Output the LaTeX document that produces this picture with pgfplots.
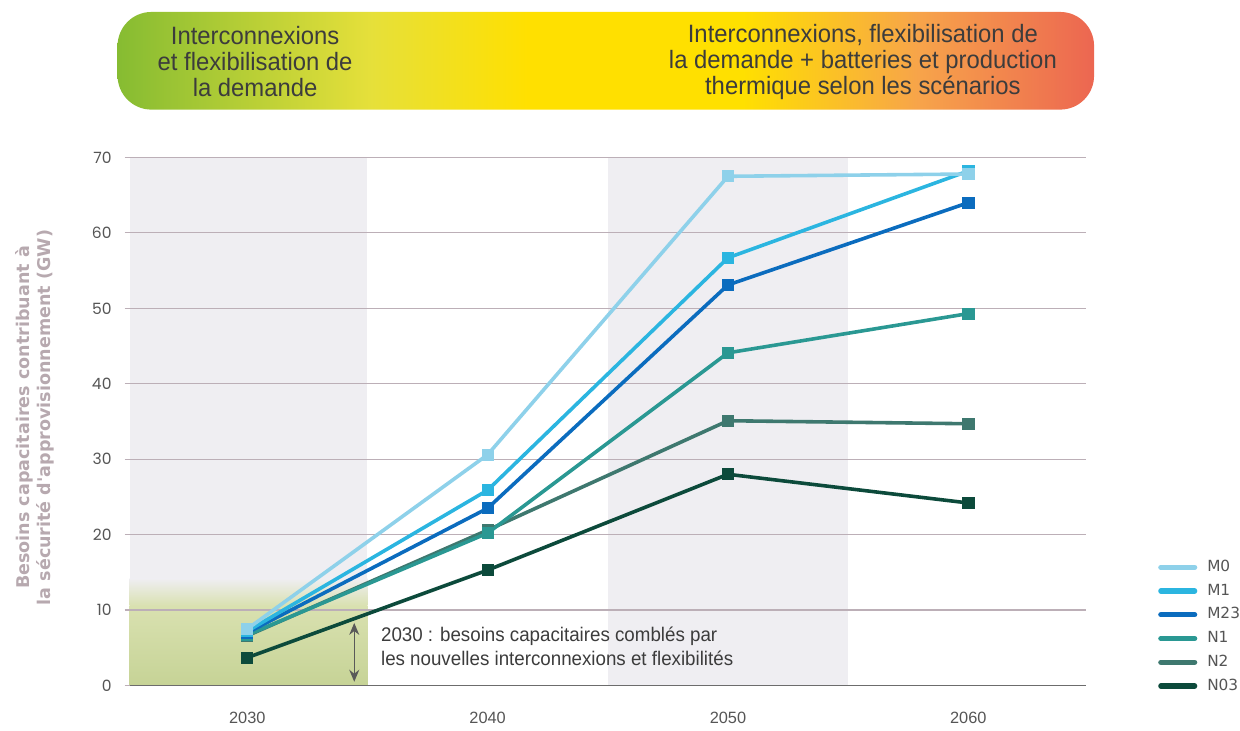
\documentclass[border=0pt]{standalone}
\usepackage{fontspec}
\setmainfont{Liberation Sans}
\newfontfamily\narrowfont[FakeStretch=0.95]{Liberation Sans}
\newfontfamily\dejavu{DejaVu Sans}
\newfontfamily\roundfont{Poppins}
\usepackage{pgfplots}
\pgfplotsset{compat=1.18}
\usetikzlibrary{arrows.meta}

\definecolor{cM0}{HTML}{8ED1EA}
\definecolor{cM1}{HTML}{2BB5E0}
\definecolor{cM23}{HTML}{0B6CBE}
\definecolor{cN1}{HTML}{2A9893}
\definecolor{cN2}{HTML}{3E786F}
\definecolor{cN03}{HTML}{0C4A3B}
\definecolor{gridc}{HTML}{BCAFB7}
\definecolor{bandgray}{HTML}{EFEEF2}
\definecolor{greenlow}{HTML}{C6D396}
\definecolor{greenhigh}{HTML}{D9E1B0}
\definecolor{labelgray}{HTML}{B7A9AF}
\definecolor{textgray}{HTML}{3C3C3C}
\definecolor{tickgray}{HTML}{555555}
\definecolor{bgreen}{HTML}{86BC32}
\definecolor{bygreen}{HTML}{E6E03A}
\definecolor{byellow}{HTML}{FFE000}
\definecolor{borange}{HTML}{F7A44A}
\definecolor{bred}{HTML}{EC6651}

\pgfdeclarehorizontalshading{bannershade}{100bp}{%
  color(0bp)=(bgreen); color(25bp)=(bgreen); color(38bp)=(bygreen);
  color(46bp)=(byellow); color(57bp)=(byellow); color(66bp)=(borange);
  color(75bp)=(bred); color(100bp)=(bred)}

\begin{document}
\begin{tikzpicture}
\begin{scope}[x=0.5pt,y=-0.5pt]
\path[use as bounding box] (0,0) rectangle (1240,729);

% header banner
\shade[shading=bannershade, rounded corners=17pt] (118,12) rectangle (1098,110);
\node[align=center, text=textgray, font=\narrowfont\fontsize{12.6}{13}\selectfont]
  at (256,62) {Interconnexions\\et flexibilisation de\\la demande};
\node[align=center, text=textgray, font=\narrowfont\fontsize{12.6}{13}\selectfont]
  at (866,62) {Interconnexions, flexibilisation de\\la demande + batteries et production\\thermique selon les scénarios};

% y axis title
\node[rotate=90, align=center, text=labelgray, font=\dejavu\bfseries\fontsize{8.8}{10.5}\selectfont]
  at (35,419) {Besoins capacitaires contribuant à\\la sécurité d'approvisionnement (GW)};
\end{scope}

\begin{axis}[
  at={(65pt,-344pt)}, anchor=south west,
  scale only axis, width=480pt, height=265pt,
  set layers, clip=false,
  xmin=2025.1, xmax=2064.9, ymin=0, ymax=70,
  xtick={2030,2040,2050,2060},
  xticklabels={2030,2040,2050,2060},
  ytick={0,10,...,70},
  axis lines*=left,
  y axis line style={draw=none},
  x axis line style={draw=gray!85!black, line width=0.8pt},
  ymajorgrids, major grid style={draw=gridc, line width=0.6pt},
  xtick style={draw=none},
  ytick style={draw=gridc, line width=0.6pt},
  tick align=outside, major tick length=2.5pt,
  /pgf/number format/assume math mode=true,
  yticklabel style={font=\roundfont\fontsize{7.8}{9}\selectfont, text=tickgray, xshift=-3pt},
  xticklabel style={font=\fontsize{8.2}{9}\selectfont, text=tickgray, yshift=-7.5pt},
  every axis plot/.append style={line width=1.8pt, mark=square*, mark size=2.8pt,
    mark options={line width=0.4pt}},
  reverse legend,
  legend cell align=left,
  legend style={at={(axis description cs:1.075,0.247)}, anchor=north west,
    draw=none, fill=none, inner sep=0pt, row sep=0pt,
    font=\dejavu\fontsize{7.7}{9}\selectfont, text=tickgray,
    nodes={inner sep=0pt, minimum height=11.9pt},
    /tikz/every odd column/.append style={column sep=5pt}},
  legend image code/.code={%
    \draw[line width=2.6pt, line cap=round, #1, mark=none] (0pt,0pt) -- (17pt,0pt);},
]
\begin{pgfonlayer}{axis background}
  \fill[bandgray] (axis cs:2025.1,0) rectangle (axis cs:2035,70);
  \fill[bandgray] (axis cs:2045,0) rectangle (axis cs:2055,70);
  \shade[bottom color=greenlow, top color=greenhigh] (axis cs:2025.1,0) rectangle (axis cs:2035,10.6);
  \shade[bottom color=greenhigh, top color=bandgray] (axis cs:2025.1,10.55) rectangle (axis cs:2035,14.2);
\end{pgfonlayer}

\addplot[color=cN03] coordinates {(2030,3.7) (2040,15.3) (2050,28.0) (2060,24.2)};
\addlegendentry{N03}
\addplot[color=cN2] coordinates {(2030,6.6) (2040,20.6) (2050,35.1) (2060,34.7)};
\addlegendentry{N2}
\addplot[color=cN1] coordinates {(2030,6.7) (2040,20.2) (2050,44.1) (2060,49.3)};
\addlegendentry{N1}
\addplot[color=cM23] coordinates {(2030,7.0) (2040,23.5) (2050,53.1) (2060,64.0)};
\addlegendentry{M23}
\addplot[color=cM1] coordinates {(2030,7.2) (2040,25.9) (2050,56.7) (2060,68.2)};
\addlegendentry{M1}
\addplot[color=cM0] coordinates {(2030,7.5) (2040,30.6) (2050,67.5) (2060,67.8)};
\addlegendentry{M0}

% 2030 note
\draw[{Stealth[length=6pt,width=5pt]}-{Stealth[length=6pt,width=5pt]}, color=textgray!85, line width=0.7pt]
  (axis cs:2034.45,0.5) -- (axis cs:2034.45,8.3);
\node[anchor=west, align=left, inner sep=0pt, text=textgray,
  font=\narrowfont\fontsize{9.9}{12}\selectfont]
  at (axis cs:2035.55,5.25) {2030 : besoins capacitaires comblés par\\les nouvelles interconnexions et flexibilités};
\end{axis}
\end{tikzpicture}
\end{document}
